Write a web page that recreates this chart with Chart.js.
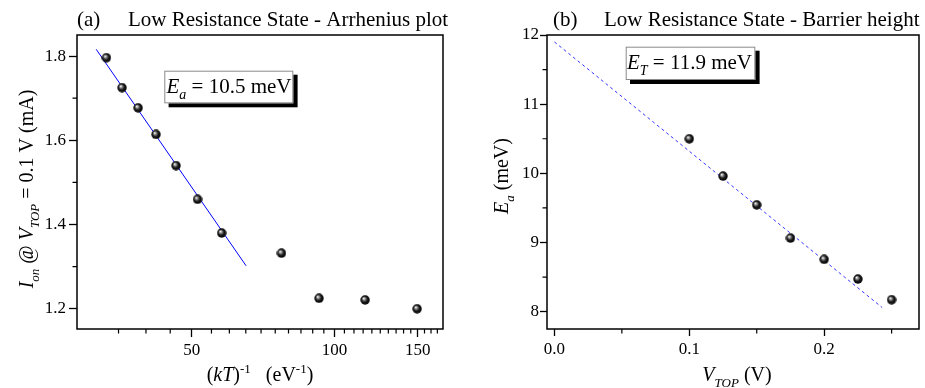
<!DOCTYPE html>
<html>
<head>
<meta charset="utf-8">
<script src="https://cdn.jsdelivr.net/npm/chart.js@4.4.1/dist/chart.umd.min.js"></script>
<style>
  body { margin: 0; background: #fff; }
  #wrap { position: relative; width: 925px; height: 388px; }
  canvas { position: absolute; top: 0; }
  #chartA { left: 0; }
  #chartB { left: 462px; }
</style>
</head>
<body>
<div id="wrap">
  <canvas id="chartA" width="462" height="388"></canvas>
  <canvas id="chartB" width="463" height="388"></canvas>
</div>
<script>
// (a) Arrhenius plot: I_on vs (kT)^-1
const invKT = [33.0, 35.6, 38.5, 42.0, 46.3, 51.4, 57.8, 77.3, 92.8, 116.1, 149.5];
const ionCurrent = [1.796, 1.725, 1.677, 1.614, 1.540, 1.460, 1.380, 1.332, 1.225, 1.221, 1.200];
const fitInvKT = [31.4, 65.1];
const fitIon = [1.816, 1.302];
const ticksInvKT = [50, 100, 150];
const minorInvKT = [35, 40, 45, 55, 60, 65, 70, 75, 80, 85, 90, 95, 105, 110, 115, 120, 125, 130, 135, 140, 145, 155, 160, 165];
const ticksIon = [1.2, 1.4, 1.6, 1.8];
const minorIon = [1.3, 1.5, 1.7];

// (b) Barrier height: E_a vs V_TOP
const vTop = [0.10, 0.125, 0.15, 0.175, 0.20, 0.225, 0.25];
const eA = [10.50, 9.96, 9.545, 9.064, 8.757, 8.472, 8.173];
const fitV = [0, 0.243];
const fitE = [11.9, 8.06];
const ticksV = [0, 0.1, 0.2];
const minorV = [0.05, 0.15, 0.25];
const ticksE = [8, 9, 10, 11, 12];
const minorE = [8.5, 9.5, 10.5, 11.5];

const FONT = '"Liberation Serif", "Times New Roman", serif';

// petite sphère noire avec reflet
function makeSphere() {
  const c = document.createElement('canvas');
  c.width = 10; c.height = 10;
  const g = c.getContext('2d');
  const grad = g.createRadialGradient(3.6, 3.4, 0.2, 5, 5, 5);
  grad.addColorStop(0, '#ffffff');
  grad.addColorStop(0.22, '#9a9a9a');
  grad.addColorStop(0.55, '#1a1a1a');
  grad.addColorStop(1, '#000000');
  g.fillStyle = grad;
  g.beginPath();
  g.arc(5, 5, 4.7, 0, Math.PI * 2);
  g.fill();
  return c;
}
const sphere = makeSphere();

// texte avec indices / exposants
function richText(ctx, parts, x, y, align, rotate, size) {
  const small = Math.round(size * 0.66);
  const fontOf = p => (p.i ? 'italic ' : '') + ((p.sub || p.sup) ? small : size) + 'px ' + FONT;
  let w = 0;
  parts.forEach(p => { ctx.font = fontOf(p); p.w = ctx.measureText(p.t).width; w += p.w; });
  ctx.save();
  ctx.translate(x, y);
  if (rotate) ctx.rotate(rotate);
  let cx = align === 'center' ? -w / 2 : 0;
  ctx.fillStyle = '#000';
  ctx.textBaseline = 'alphabetic';
  ctx.textAlign = 'left';
  parts.forEach(p => {
    ctx.font = fontOf(p);
    const dy = p.sub ? size * 0.3 : (p.sup ? -size * 0.4 : 0);
    ctx.fillText(p.t, cx, dy);
    cx += p.w;
  });
  ctx.restore();
}

function minorTicks(chart, id, values, len) {
  const s = chart.scales[id];
  const a = chart.chartArea;
  const ctx = chart.ctx;
  ctx.save();
  ctx.strokeStyle = '#000';
  ctx.lineWidth = 1.2;
  ctx.beginPath();
  values.forEach(v => {
    const p = s.getPixelForValue(v);
    if (s.isHorizontal()) {
      if (p < a.left - 0.5 || p > a.right + 0.5) return;
      ctx.moveTo(p, a.bottom); ctx.lineTo(p, a.bottom + len);
    } else {
      if (p < a.top - 0.5 || p > a.bottom + 0.5) return;
      ctx.moveTo(a.left - len, p); ctx.lineTo(a.left, p);
    }
  });
  ctx.stroke();
  ctx.restore();
}

function drawBox(ctx, x, y, w, h, parts, tx, ty) {
  ctx.save();
  ctx.fillStyle = '#000';
  ctx.fillRect(x + 4.3, y + 4, w, h);
  ctx.fillStyle = '#fff';
  ctx.fillRect(x, y, w, h);
  ctx.strokeStyle = '#8a8a8a';
  ctx.lineWidth = 1;
  ctx.strokeRect(x + 0.5, y + 0.5, w - 1, h - 1);
  ctx.restore();
  richText(ctx, parts, tx, ty, 'left', 0, 21);
}

function decorPlugin(cfg) {
  return {
    id: 'decor',
    afterDraw(chart) {
      const ctx = chart.ctx;
      const a = chart.chartArea;
      minorTicks(chart, 'x', cfg.minorX, 4.5);
      minorTicks(chart, 'y', cfg.minorY, 4.5);
      ctx.save();
      ctx.strokeStyle = '#000';
      ctx.lineWidth = 1.5;
      ctx.strokeRect(a.left, a.top, a.right - a.left, a.bottom - a.top);
      ctx.restore();
      cfg.draw(ctx, a);
    }
  };
}

function scaleOpts(min, max, ticks, fmt, thick, tickLen, pad, type) {
  return {
    type: type || 'linear',
    min: min, max: max,
    afterBuildTicks: s => { s.ticks = ticks.map(v => ({ value: v })); },
    afterFit: s => { if (s.isHorizontal()) s.height = thick; else s.width = thick; },
    border: { display: false },
    grid: { drawOnChartArea: false, drawTicks: true, tickLength: tickLen, tickColor: '#000', tickWidth: 1.3 },
    ticks: { color: '#000', padding: pad, font: { family: FONT, size: 17 }, callback: fmt, maxRotation: 0, autoSkip: false }
  };
}

function baseOptions(padRight, scales) {
  return {
    responsive: false,
    animation: false,
    devicePixelRatio: 1,
    layout: { padding: { top: 35, right: padRight, left: 0, bottom: 0 } },
    plugins: { legend: { display: false }, tooltip: { enabled: false } },
    scales: scales
  };
}

// ---------- (a)
new Chart(document.getElementById('chartA'), {
  type: 'scatter',
  data: {
    datasets: [
      {
        data: invKT.map((x, i) => ({ x: x, y: ionCurrent[i] })),
        pointStyle: sphere, pointRadius: 5, order: 0
      },
      {
        type: 'line',
        data: fitInvKT.map((x, i) => ({ x: x, y: fitIon[i] })),
        borderColor: '#0000ff', borderWidth: 1, pointRadius: 0, fill: false, order: 1
      }
    ]
  },
  options: baseOptions(19, {
    x: scaleOpts(28.6, 169.6, ticksInvKT, v => String(v), 59, 8, 3, 'logarithmic'),
    y: scaleOpts(1.152, 1.85, ticksIon, v => v.toFixed(1), 77, 8, 3)
  }),
  plugins: [decorPlugin({
    minorX: minorInvKT, minorY: minorIon,
    draw(ctx, a) {
      richText(ctx, [{ t: '(a)' }], 77, 26, 'left', 0, 21);
      richText(ctx, [{ t: 'Low Resistance State - Arrhenius plot' }], 128, 26, 'left', 0, 21);
      richText(ctx, [
        { t: '(' }, { t: 'kT', i: true }, { t: ')' }, { t: '-1', sup: true },
        { t: '   (eV' }, { t: '-1', sup: true }, { t: ')' }
      ], 260, 381, 'center', 0, 20);
      richText(ctx, [
        { t: 'I', i: true }, { t: 'on', i: true, sub: true }, { t: ' @ ' },
        { t: 'V', i: true }, { t: 'TOP', i: true, sub: true }, { t: ' = 0.1 V (mA)' }
      ], 33, 189, 'center', -Math.PI / 2, 20);
      drawBox(ctx, 164.3, 70.7, 129, 32.6,
        [{ t: 'E', i: true }, { t: 'a', i: true, sub: true }, { t: ' = 10.5 meV' }], 166.5, 93);
    }
  })]
});

// ---------- (b)
new Chart(document.getElementById('chartB'), {
  type: 'scatter',
  data: {
    datasets: [
      {
        data: vTop.map((x, i) => ({ x: x, y: eA[i] })),
        pointStyle: sphere, pointRadius: 5, order: 0
      },
      {
        type: 'line',
        data: fitV.map((x, i) => ({ x: x, y: fitE[i] })),
        borderColor: '#3535ff', borderWidth: 1, borderDash: [3, 3], pointRadius: 0, fill: false, order: 1
      }
    ]
  },
  options: baseOptions(4, {
    x: scaleOpts(-0.0055, 0.2703, ticksV, v => v.toFixed(1), 59, 7, 3),
    y: scaleOpts(7.75, 12, ticksE, v => String(v), 85, 7, 1)
  }),
  plugins: [decorPlugin({
    minorX: minorV, minorY: minorE,
    draw(ctx, a) {
      richText(ctx, [{ t: '(b)' }], 91, 26, 'left', 0, 21);
      richText(ctx, [{ t: 'Low Resistance State - Barrier height' }], 142, 26, 'left', 0, 21);
      richText(ctx, [
        { t: 'V', i: true }, { t: 'TOP', i: true, sub: true }, { t: ' (V)' }
      ], 275, 381, 'center', 0, 20);
      richText(ctx, [
        { t: 'E', i: true }, { t: 'a', i: true, sub: true }, { t: ' (meV)' }
      ], 46, 176, 'center', -Math.PI / 2, 20);
      drawBox(ctx, 163.7, 46.7, 129.6, 33.3,
        [{ t: 'E', i: true }, { t: 'T', i: true, sub: true }, { t: ' = 11.9 meV' }], 165, 69);
    }
  })]
});
</script>
</body>
</html>
